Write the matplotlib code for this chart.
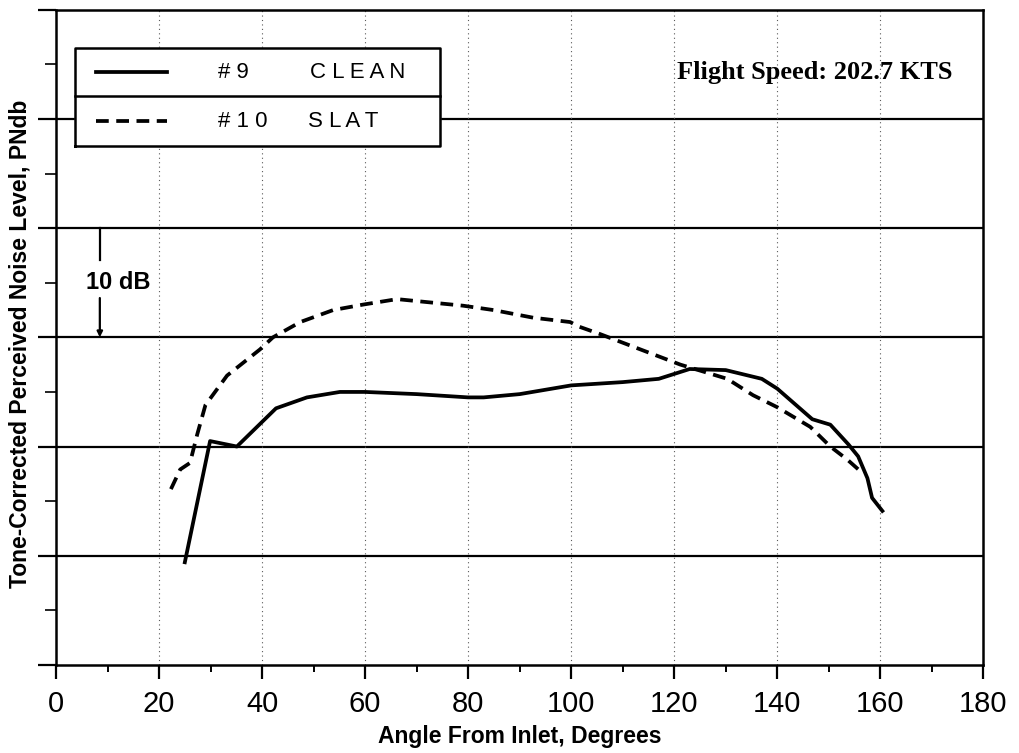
import matplotlib.pyplot as plt
from matplotlib.ticker import MultipleLocator

# data (y in dB above an arbitrary base, 10 dB per grid)
clean_x = [25.0, 29.9, 35.1, 42.7, 48.7, 55.1, 60, 70, 80, 83, 90, 100, 110,
           117, 123, 130, 137, 140, 146.8, 150.3, 153.8, 155.7, 157.5, 158.4, 160.4]
clean_y = [9.4, 20.5, 20.0, 23.5, 24.5, 25.0, 25.0, 24.8, 24.5, 24.5, 24.8, 25.6, 25.9,
           26.2, 27.1, 27.0, 26.2, 25.3, 22.5, 22.0, 20.2, 19.1, 17.1, 15.3, 14.1]

slat_x = [22.3, 24.1, 26.0, 27.4, 29.0, 33.2, 39.6, 42.1, 47.4, 53.8, 59.6, 66.2,
          79.0, 84.9, 92.6, 99.8, 101.4, 105.6, 113.4, 121.2, 130.3, 135.3, 140,
          146.4, 150.3, 153.6, 156.7]
slat_y = [16.1, 17.9, 18.5, 21.1, 23.8, 26.5, 28.9, 30.0, 31.4, 32.5, 33.0, 33.5,
          32.9, 32.5, 31.8, 31.4, 31.0, 30.3, 28.9, 27.5, 26.2, 24.7, 23.6,
          21.8, 20.0, 18.8, 17.5]

x_ticks = [0, 20, 40, 60, 80, 100, 120, 140, 160, 180]
dotted_x = [20, 40, 60, 80, 100, 120, 140, 160]

plt.rcParams['font.family'] = ['Liberation Sans', 'DejaVu Sans']

fig = plt.figure(figsize=(10.19, 7.53), dpi=100)
ax = fig.add_axes([0.055, 0.117, 0.910, 0.870])

ax.set_xlim(0, 180)
ax.set_ylim(0, 60)

# horizontal solid grid, vertical dotted grid
for yv in range(10, 60, 10):
    ax.axhline(yv, color='black', lw=1.6, zorder=1)
for xv in dotted_x:
    ax.axvline(xv, color='0.35', lw=0.8, ls=(0, (1, 3)), zorder=1)

ax.plot(clean_x, clean_y, color='black', lw=2.7, solid_joinstyle='round', zorder=3)
ax.plot(slat_x, slat_y, color='black', lw=2.7, ls=(0, (3.4, 2.0)), zorder=3)

for s in ax.spines.values():
    s.set_linewidth(1.8)

ax.set_xticks(x_ticks)
ax.xaxis.set_minor_locator(MultipleLocator(10))
ax.yaxis.set_major_locator(MultipleLocator(10))
ax.yaxis.set_minor_locator(MultipleLocator(5))
ax.tick_params(axis='x', which='major', direction='out', length=10, width=1.6,
               labelsize=21, pad=8)
ax.tick_params(axis='x', which='minor', direction='out', length=5, width=1.4)
ax.tick_params(axis='y', which='major', direction='out', length=13, width=1.6,
               labelleft=False)
ax.tick_params(axis='y', which='minor', direction='out', length=8, width=1.2)

ax.set_xlabel('Angle From Inlet, Degrees', fontsize=16.5, fontweight='bold', labelpad=5)
ax.set_ylabel('Tone-Corrected Perceived Noise Level, PNdb', fontsize=16.5,
              fontweight='bold', va='center')
ax.yaxis.set_label_coords(-0.039, 0.49)

# legend box drawn by hand (two ruled rows)
lx0, lx1 = 3.7, 74.6
ly0, ly1, lmid = 47.5, 56.5, 52.1
ax.fill([lx0, lx1, lx1, lx0], [ly0, ly0, ly1, ly1], color='white', zorder=4)
ax.plot([lx0, lx1, lx1, lx0, lx0], [ly0, ly0, ly1, ly1, ly0], color='black', lw=1.8, zorder=5)
ax.plot([lx0, lx1], [lmid, lmid], color='black', lw=1.8, zorder=5)
ax.plot([7.7, 21.6], [54.3, 54.3], color='black', lw=2.7, zorder=5)
ax.plot([7.7, 21.6], [49.8, 49.8], color='black', lw=2.7, ls=(0, (3.4, 2.0)), zorder=5)
ax.text(31.5, 54.3, '# 9', fontsize=16, va='center', ha='left', zorder=6)
ax.text(49.3, 54.3, 'C L E A N', fontsize=16, va='center', ha='left', zorder=6)
ax.text(31.5, 49.8, '# 1 0', fontsize=16, va='center', ha='left', zorder=6)
ax.text(48.9, 49.8, 'S L A T', fontsize=16, va='center', ha='left', zorder=6)

ax.text(174, 54.3, 'Flight Speed: 202.7 KTS', fontsize=19, fontweight='bold',
        family=['Liberation Serif', 'DejaVu Serif'], ha='right', va='center', zorder=6)

# 10 dB scale marker
ax.plot([8.5, 8.5], [40, 37.1], color='black', lw=1.6, zorder=5)
ax.annotate('', xy=(8.5, 30), xytext=(8.5, 33.6),
            arrowprops=dict(arrowstyle='-|>', color='black', lw=1.6,
                            mutation_scale=8, shrinkA=0, shrinkB=0), zorder=5)
ax.text(12.0, 35.0, '10 dB', fontsize=17, fontweight='bold', ha='center',
        va='center', zorder=6)

fig.savefig('out.png', dpi=100)
